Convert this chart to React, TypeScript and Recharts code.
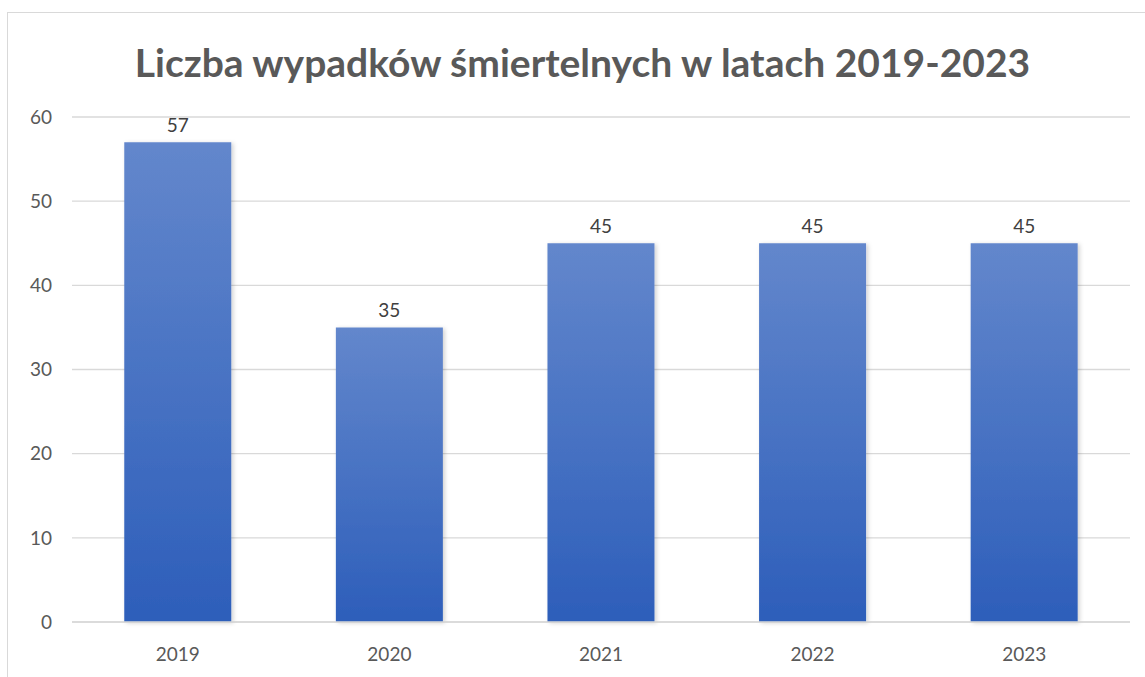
import { BarChart, Bar, XAxis, YAxis, CartesianGrid, LabelList } from 'recharts';

// --- Data ---
const YEARS = ['2019', '2020', '2021', '2022', '2023'];
const FATAL_ACCIDENTS = [57, 35, 45, 45, 45];
const Y_TICKS = [0, 10, 20, 30, 40, 50, 60];

const TITLE = 'Liczba wypadków śmiertelnych w latach 2019-2023';
const FONT = 'Lato, "Open Sans", sans-serif';

export default function App() {
    const chartData = YEARS.map((year, i) => ({ year, value: FATAL_ACCIDENTS[i] }));

    return (
        <div style={{ position: 'absolute', left: 0, top: 0, width: 1145, height: 677, background: '#fff', overflow: 'hidden' }}>
            {/* chart frame */}
            <div
                style={{
                    position: 'absolute',
                    left: 7,
                    top: 12,
                    width: 1160,
                    height: 700,
                    border: '1px solid #d9d9d9',
                }}
            />
            <div
                style={{
                    position: 'absolute',
                    left: 0,
                    width: 1165,
                    top: 37,
                    textAlign: 'center',
                    fontFamily: FONT,
                    fontWeight: 700,
                    fontSize: 39,
                    color: '#595959',
                    lineHeight: '50px',
                }}
            >
                {TITLE}
            </div>
            <div style={{ position: 'absolute', left: 0, top: 0 }}>
                <BarChart
                    width={1145}
                    height={677}
                    data={chartData}
                    margin={{ top: 117, right: 15, bottom: 15, left: 12 }}
                    barCategoryGap="24.7%"
                >
                    <defs>
                        <linearGradient id="barFill" x1="0" y1="0" x2="0" y2="1">
                            <stop offset="0%" stopColor="#6387CC" />
                            <stop offset="100%" stopColor="#2D5EBA" />
                        </linearGradient>
                        <filter id="barShadow" x="-10%" y="-10%" width="130%" height="130%">
                            <feDropShadow dx="2" dy="1" stdDeviation="2" floodColor="#000" floodOpacity="0.18" />
                        </filter>
                    </defs>
                    <CartesianGrid vertical={false} stroke="#d9d9d9" strokeWidth={1.3} />
                    <XAxis
                        dataKey="year"
                        axisLine={{ stroke: '#d9d9d9', strokeWidth: 1.3 }}
                        tickLine={false}
                        height={40}
                        tickMargin={20}
                        tick={{ fill: '#595959', fontSize: 19, fontFamily: FONT }}
                    />
                    <YAxis
                        domain={[0, 60]}
                        ticks={Y_TICKS}
                        axisLine={false}
                        tickLine={false}
                        width={60}
                        tickMargin={14}
                        tick={{ fill: '#595959', fontSize: 19, fontFamily: FONT }}
                    />
                    <Bar dataKey="value" fill="url(#barFill)" filter="url(#barShadow)" isAnimationActive={false}>
                        <LabelList
                            dataKey="value"
                            position="top"
                            offset={10}
                            fill="#404040"
                            fontSize={19}
                            fontFamily={FONT}
                        />
                    </Bar>
                </BarChart>
            </div>
        </div>
    );
}
